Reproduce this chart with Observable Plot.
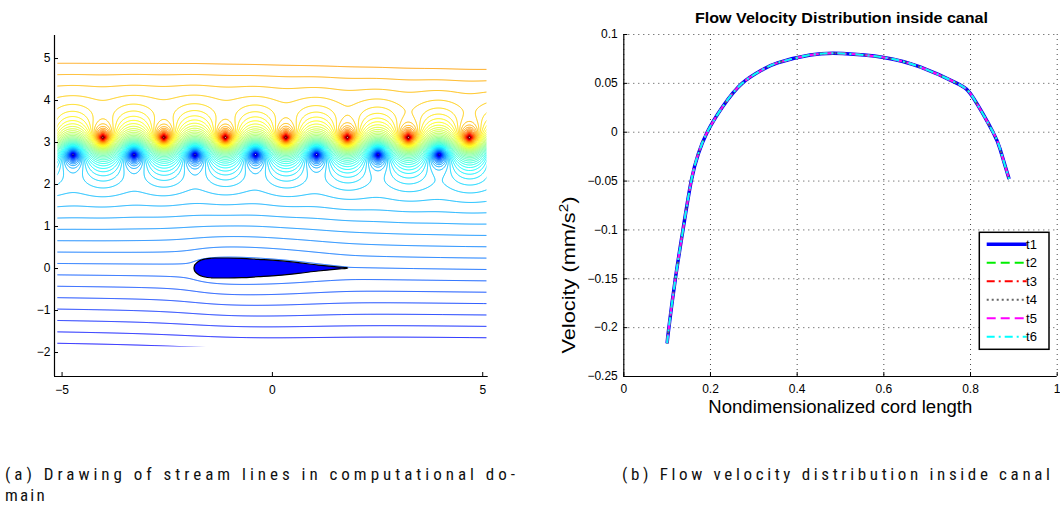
<!DOCTYPE html>
<html><head><meta charset="utf-8">
<script src="https://cdn.jsdelivr.net/npm/d3@7"></script>
<script src="https://cdn.jsdelivr.net/npm/@observablehq/plot@0.6"></script>
<style>
html,body{margin:0;padding:0;background:#fff}
body{width:1060px;height:512px;position:relative;overflow:hidden;font-family:"Liberation Sans",Arial,sans-serif}
#left{position:absolute;left:0;top:0}
#right{position:absolute;left:540px;top:0}
#caps{position:absolute;left:0;top:440px}
svg{overflow:visible}
</style></head><body>
<div id="left"></div><div id="right"></div>
<svg id="caps" width="1060" height="72"></svg>
<script>
// ---------------- data ----------------
// (a) streamline picture
const redVortexX  = [-4.03, -2.58, -1.12, 0.32, 1.78, 3.23, 4.68];
const redVortexY  = [3.12, 3.12, 3.12, 3.12, 3.12, 3.12, 3.12];
const blueVortexX = [-4.74, -3.29, -1.84, -0.40, 1.05, 2.51, 3.96];
const blueVortexY = [2.71, 2.71, 2.71, 2.71, 2.71, 2.71, 2.71];
const foilX    = [-1.853, -1.84, -1.82, -1.78, -1.75, -1.68, -1.59, -1.45, -1.354, -1.04, -0.72, -0.325, 0.15, 0.625, 1.10, 1.418, 1.60, 1.774, 1.80];
const foilHalf = [0, 0.06, 0.09, 0.13, 0.155, 0.19, 0.214, 0.232, 0.238, 0.238, 0.231, 0.207, 0.176, 0.128, 0.071, 0.040, 0.022, 0.008, 0];
const gridXRange = [-5.1, 5.1];
const gridYRange = [-1.87, 4.9];
const lowestLine = [-5.1, -1.78];   // where the lowest full streamline starts
const topLine = [-5.1, 4.9];        // where the top streamline starts
const levelStep = 0.27;
const flowSlope = 0.014;
const vortexStrength = 2.8;
const xDomainL = [-5.18, 5.13];
const yDomainL = [-2.571, 5.548];
const xTicksL = [-5, 0, 5];
const yTicksL = [-2, -1, 0, 1, 2, 3, 4, 5];

// (b) velocity distribution
const chord = [0.100, 0.104, 0.119, 0.1365, 0.1555, 0.172, 0.1924, 0.228, 0.273, 0.320, 0.355, 0.430, 0.505, 0.600, 0.685, 0.769, 0.807, 0.852, 0.869, 0.889];
const t1 = [-0.216, -0.200, -0.150, -0.100, -0.050, -0.022, 0.000, 0.026, 0.050, 0.064, 0.071, 0.079, 0.0805, 0.0765, 0.0665, 0.050, 0.0347, 0.000, -0.0184, -0.048];
const t2 = [-0.216, -0.200, -0.150, -0.100, -0.050, -0.022, 0.000, 0.026, 0.050, 0.064, 0.071, 0.079, 0.0805, 0.0765, 0.0665, 0.050, 0.0347, 0.000, -0.0184, -0.048];
const t3 = [-0.216, -0.200, -0.150, -0.100, -0.050, -0.022, 0.000, 0.026, 0.050, 0.064, 0.071, 0.079, 0.0805, 0.0765, 0.0665, 0.050, 0.0347, 0.000, -0.0184, -0.048];
const t4 = [-0.216, -0.200, -0.150, -0.100, -0.050, -0.022, 0.000, 0.026, 0.050, 0.064, 0.071, 0.079, 0.0805, 0.0765, 0.0665, 0.050, 0.0347, 0.000, -0.0184, -0.048];
const t5 = [-0.216, -0.200, -0.150, -0.100, -0.050, -0.022, 0.000, 0.026, 0.050, 0.064, 0.071, 0.079, 0.0805, 0.0765, 0.0665, 0.050, 0.0347, 0.000, -0.0184, -0.048];
const t6 = [-0.216, -0.200, -0.150, -0.100, -0.050, -0.022, 0.000, 0.026, 0.050, 0.064, 0.071, 0.079, 0.0805, 0.0765, 0.0665, 0.050, 0.0347, 0.000, -0.0184, -0.048];
const seriesNames = ["t1", "t2", "t3", "t4", "t5", "t6"];
const xDomainR = [0, 1];
const yDomainR = [-0.25, 0.1];
const xTicksR = [0, 0.2, 0.4, 0.6, 0.8, 1];
const yTicksR = [-0.25, -0.2, -0.15, -0.1, -0.05, 0, 0.05, 0.1];

// ---------------- styles ----------------
const FONT = '"Liberation Sans", Arial, Helvetica, sans-serif';
const seriesStyle = [
  {stroke: "#0000ff", strokeWidth: 3.5, dash: null},
  {stroke: "#00ee00", strokeWidth: 2, dash: "9,5"},
  {stroke: "#ff0000", strokeWidth: 2, dash: "8,4,2,4"},
  {stroke: "#666666", strokeWidth: 2, dash: "2,3"},
  {stroke: "#ff00ff", strokeWidth: 2, dash: "9,5"},
  {stroke: "#00ffff", strokeWidth: 2, dash: "8,4,2,4"}
];
const jet = d3.piecewise(d3.interpolateRgb, ["#000080","#0000ff","#0080ff","#00ffff","#80ff80","#ffff00","#ff8000","#ff0000","#800000"]);
const minusFmt = d => (d < 0 ? "\u2212" + String(Math.abs(d)) : String(d));

// ---------------- stream function for the contour picture ----------------
const period = (redVortexX[redVortexX.length - 1] - redVortexX[0]) * redVortexX.length / (redVortexX.length - 1);
const wv = 2 * Math.PI / period;
const fx = [], fh = [];
for (let i = 0; i < foilX.length - 1; i++) {
  const n = 6;
  for (let j = 0; j < n; j++) {
    const t = j / n;
    fx.push(foilX[i] + t * (foilX[i + 1] - foilX[i]));
    fh.push(foilHalf[i] + t * (foilHalf[i + 1] - foilHalf[i]));
  }
}
fx.push(foilX[foilX.length - 1]); fh.push(foilHalf[foilHalf.length - 1]);
const hbar = [];
for (let i = 0; i < fx.length - 1; i++) hbar.push((fh[i] + fh[i + 1]) / 2);
const nodeW = fx.map((_, n) => (n > 0 ? hbar[n - 1] : 0) - (n < hbar.length ? hbar[n] : 0));

function psi(x, y) {
  let v = y + flowSlope * x;
  for (let i = 0; i < redVortexX.length; i++)
    v -= vortexStrength * 0.5 * Math.log(Math.cosh(wv * (y - redVortexY[i])) - Math.cos(wv * (x - redVortexX[i])) + 1e-12);
  for (let i = 0; i < blueVortexX.length; i++)
    v += vortexStrength * 0.5 * Math.log(Math.cosh(wv * (y - blueVortexY[i])) - Math.cos(wv * (x - blueVortexX[i])) + 1e-12);
  const yy = Math.abs(y) < 1e-6 ? 1e-6 : y;
  let s = 0;
  for (let n = 0; n < fx.length; n++) s += Math.atan((fx[n] - x) / yy) * nodeW[n];
  v -= s / Math.PI;
  return v;
}
const base = psi(lowestLine[0], lowestLine[1]);
const psiTop = psi(topLine[0], topLine[1]);
const span = (psiTop - base) / (0.72 - 0.125);
const cmin = base - 0.125 * span, cmax = cmin + span;
const thresholds = d3.range(Math.ceil((cmin - base) / levelStep), Math.floor((cmax - base) / levelStep) + 1).map(i => base + i * levelStep);

// ---------------- left chart ----------------
const foilData = foilX.map((x, i) => ({x, h: foilHalf[i]}));
const frameWL = 500 - 54 - 12.3, frameHL = 400 - 35 - 24;
const plotL = Plot.plot({
  width: 500, height: 400,
  marginLeft: 54, marginRight: 12.3, marginTop: 35, marginBottom: 24,
  style: {fontFamily: FONT, fontSize: "12px", color: "#000", background: "transparent"},
  x: {domain: xDomainL, label: null},
  y: {domain: yDomainL, label: null},
  color: {type: "linear", domain: [cmin, cmax], interpolate: jet, clamp: true},
  marks: [
    Plot.contour({value: psi, x1: -5.5, x2: 5.5, y1: -2.3, y2: 5.3, pixelSize: 1,
      thresholds, stroke: "value", fill: "none", strokeWidth: 1}),
    Plot.areaY(foilData, {x: "x", y1: d => -d.h, y2: d => d.h, fill: "#0000ff", stroke: "#000", strokeWidth: 1.2, curve: "monotone-x"}),
    Plot.axisX(xTicksL, {tickSize: 0, tickPadding: 9, tickFormat: minusFmt, stroke: "#000", fill: "#000", fontSize: 12}),
    Plot.axisY(yTicksL, {tickSize: 0, tickPadding: 4, tickFormat: minusFmt, stroke: "#000", fill: "#000", fontSize: 12}),
    Plot.tickX(xTicksL, {insetTop: frameHL - 4, stroke: "#000"}),
    Plot.tickY(yTicksL, {insetRight: frameWL - 4, stroke: "#000"}),
    Plot.ruleX([xDomainL[0]], {stroke: "#000", strokeWidth: 1.2}),
    Plot.ruleY([yDomainL[0]], {stroke: "#000", strokeWidth: 1.2})
  ]
});
document.getElementById("left").appendChild(plotL);
{
  const ns = "http://www.w3.org/2000/svg";
  const sx = plotL.scale("x"), sy = plotL.scale("y");
  const defs = document.createElementNS(ns, "defs");
  const cp = document.createElementNS(ns, "clipPath");
  cp.setAttribute("id", "gridclip");
  const r = document.createElementNS(ns, "rect");
  r.setAttribute("x", sx.apply(gridXRange[0]));
  r.setAttribute("width", sx.apply(gridXRange[1]) - sx.apply(gridXRange[0]));
  r.setAttribute("y", sy.apply(gridYRange[1]));
  r.setAttribute("height", sy.apply(gridYRange[0]) - sy.apply(gridYRange[1]));
  cp.appendChild(r); defs.appendChild(cp);
  plotL.insertBefore(defs, plotL.firstChild);
  const cg = plotL.querySelector('g[aria-label="contour"]');
  if (cg) {
    const wrap = document.createElementNS(ns, "g");
    wrap.setAttribute("clip-path", "url(#gridclip)");
    cg.parentNode.insertBefore(wrap, cg);
    wrap.appendChild(cg);
  }
}

// ---------------- right chart ----------------
const seriesValues = [t1, t2, t3, t4, t5, t6];
const lineMarks = seriesValues.map((vals, k) => {
  const st = seriesStyle[k];
  const data = chord.map((x, i) => ({x, y: vals[i]}));
  return Plot.line(data, {x: "x", y: "y", stroke: st.stroke, strokeWidth: st.strokeWidth,
    strokeDasharray: st.dash, curve: "natural", strokeLinecap: "butt"});
});
const frameWR = 520 - 83.3 - 3.3, frameHR = 420 - 34 - 44;
const plotR = Plot.plot({
  width: 520, height: 420,
  marginLeft: 83.3, marginRight: 3.3, marginTop: 34, marginBottom: 44,
  style: {fontFamily: FONT, fontSize: "12px", color: "#000", background: "transparent"},
  x: {domain: xDomainR, label: null},
  y: {domain: yDomainR, label: null},
  marks: [
    Plot.gridX(xTicksR, {stroke: "#333", strokeOpacity: 0.9, strokeDasharray: "1,4"}),
    Plot.gridY(yTicksR, {stroke: "#333", strokeOpacity: 0.9, strokeDasharray: "1,4"}),
    Plot.axisX(xTicksR, {tickSize: 0, tickPadding: 8, tickFormat: minusFmt, stroke: "#000", fill: "#000", fontSize: 12}),
    Plot.axisY(yTicksR, {tickSize: 0, tickPadding: 6, tickFormat: minusFmt, stroke: "#000", fill: "#000", fontSize: 12}),
    Plot.tickX(xTicksR, {insetTop: frameHR - 4, stroke: "#000"}),
    Plot.tickY(yTicksR, {insetRight: frameWR - 4, stroke: "#000"}),
    Plot.ruleX([xDomainR[0]], {stroke: "#000", strokeWidth: 1.2}),
    Plot.ruleY([yDomainR[0]], {stroke: "#000", strokeWidth: 1.2}),
    ...lineMarks
  ]
});
document.getElementById("right").appendChild(plotR);
{
  const svg = d3.select(plotR);
  svg.append("text").attr("x", 301.5).attr("y", 22.7).attr("text-anchor", "middle")
    .attr("font-weight", "bold").attr("font-size", 14.5).attr("fill", "#000")
    .attr("textLength", 293).attr("lengthAdjust", "spacingAndGlyphs")
    .text("Flow Velocity Distribution inside canal");
  svg.append("text").attr("x", 300.3).attr("y", 413.3).attr("text-anchor", "middle")
    .attr("font-size", 18).attr("fill", "#000")
    .attr("textLength", 264).attr("lengthAdjust", "spacingAndGlyphs")
    .text("Nondimensionalized cord length");
  const yl = svg.append("text").attr("transform", "translate(35,275) rotate(-90)")
    .attr("font-size", 17.7).attr("fill", "#000")
    .attr("textLength", 157).attr("lengthAdjust", "spacingAndGlyphs");
  yl.append("tspan").text("Velocity (mm/s");
  yl.append("tspan").attr("dy", -7).attr("font-size", 12.5).text("2");
  yl.append("tspan").attr("dy", 7).text(")");
  // legend
  const lg = svg.append("g");
  lg.append("rect").attr("x", 439.3).attr("y", 232.3).attr("width", 69.7).attr("height", 117)
    .attr("fill", "#fff").attr("stroke", "#000").attr("stroke-width", 1.5);
  seriesNames.forEach((name, k) => {
    const yy = 244.3 + k * 18.5;
    const st = seriesStyle[k];
    lg.append("line").attr("x1", 446.7).attr("x2", 486.7).attr("y1", yy).attr("y2", yy)
      .attr("stroke", st.stroke).attr("stroke-width", st.strokeWidth)
      .attr("stroke-dasharray", st.dash);
    lg.append("text").attr("x", 491.5).attr("y", yy + 4.6).attr("font-size", 13).attr("fill", "#000").text(name);
  });
}

// ---------------- captions ----------------
{
  const caps = d3.select("#caps");
  const capFont = '"Liberation Sans Narrow", "Roboto Condensed", "DejaVu Sans Condensed", "Liberation Sans", sans-serif';
  const mk = (x, y, len, txt) => caps.append("text").attr("x", x).attr("y", y)
    .attr("font-family", capFont).attr("font-stretch", "condensed").attr("font-size", 17).attr("fill", "#111")
    .attr("textLength", len).attr("lengthAdjust", "spacing").text(txt);
  mk(5, 40, 510, "(a) Drawing of stream lines in computational do-");
  caps.append("text").attr("x", 5).attr("y", 61).attr("font-family", capFont).attr("font-stretch", "condensed")
    .attr("font-size", 17).attr("fill", "#111").attr("letter-spacing", 2.2).text("main");
  mk(622, 40, 428, "(b) Flow velocity distribution inside canal");
}
</script>
</body></html>
